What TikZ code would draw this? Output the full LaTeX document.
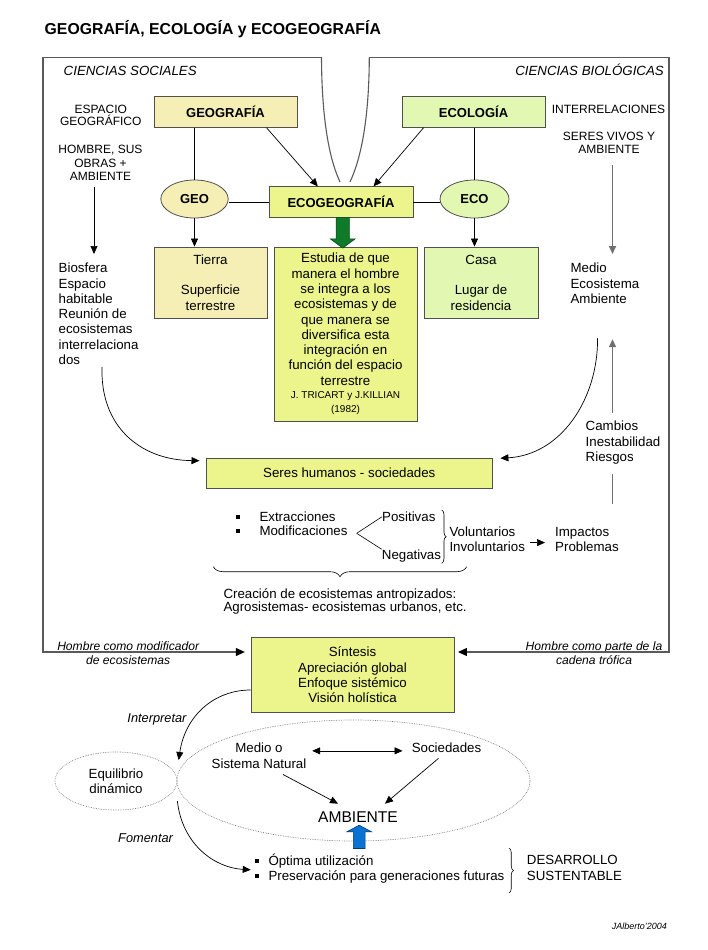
\documentclass[tikz,border=0pt]{standalone}
\usepackage{fontspec}
\setmainfont{Liberation Sans}
\usetikzlibrary{arrows.meta,shapes.geometric,calc,decorations.pathreplacing}
\definecolor{cream}{HTML}{F5EFB6}
\definecolor{lgreen}{HTML}{E2F7B2}
\definecolor{ygreen}{HTML}{ECF58C}
\definecolor{boxline}{HTML}{505050}
\definecolor{framec}{HTML}{5A5A5A}
\definecolor{grayln}{HTML}{707070}
\definecolor{darrow}{HTML}{0E7A2A}
\definecolor{barrow}{HTML}{0A72D2}
\newcommand\fsz[2]{\fontsize{#1}{#2}\selectfont}
\begin{document}
\begin{tikzpicture}[x=1pt,y=-1pt,
  box/.style={draw=boxline,line width=0.9pt,align=center,inner sep=0pt,font=\fsz{13.3}{15.3}},
  bbox/.style={box,font=\bfseries\fsz{13}{15}},
  ell/.style={ellipse,draw=boxline,line width=0.8pt,inner sep=0pt,font=\bfseries\fsz{13}{15}},
  dotell/.style={ellipse,draw=gray,line width=0.7pt,densely dotted,inner sep=0pt,align=center,font=\fsz{13.3}{15}},
  txt/.style={inner sep=0pt,font=\fsz{13.3}{15.3}},
  caps/.style={inner sep=0pt,align=center,font=\fsz{12}{12.7}},
  ital/.style={inner sep=0pt,align=center,font=\itshape\fsz{12.1}{14}},
  bul/.style={rectangle,fill=black,minimum size=4.3pt,inner sep=0pt},
  ln/.style={draw=black,line width=0.7pt},
  arr/.style={draw=black,line width=0.7pt,-{Triangle[length=8pt,width=7pt]}},
  arrtwo/.style={draw=black,line width=0.7pt,{Triangle[length=8pt,width=7pt]}-{Triangle[length=8pt,width=7pt]}},
  grayarr/.style={draw=grayln,line width=1.6pt,-{Triangle[length=8pt,width=7pt]}},
  grayline/.style={draw=grayln,line width=1.6pt},
  frame/.style={draw=framec,line width=1.1pt},
  framearr/.style={frame,-{Triangle[length=9pt,width=8pt,color=black]}},
  bracestyle/.style={draw=black,line width=0.6pt,decorate},
]
\useasboundingbox (0,0) rectangle (708,950);

% title and headings
\node[anchor=base west,inner sep=0pt,font=\bfseries\fsz{15.8}{18}] (title) at (44.5,35) {GEOGRAFÍA, ECOLOGÍA y ECOGEOGRAFÍA};
\node[anchor=base west,inner sep=0pt,font=\itshape\fsz{13.3}{15}] (csoc) at (63.5,75.3) {CIENCIAS SOCIALES};
\node[anchor=base east,inner sep=0pt,font=\itshape\fsz{13.3}{15}] (cbio) at (664,75.3) {CIENCIAS BIOLÓGICAS};

% boxes
\node[bbox,fill=cream,minimum width=143pt,minimum height=30.6pt] (geog) at (225.5,112) {GEOGRAFÍA};
\node[bbox,fill=lgreen,minimum width=143pt,minimum height=30.6pt] (ecol) at (473.5,112) {ECOLOGÍA};
\node[bbox,fill=ygreen,minimum width=144pt,minimum height=30.3pt] (ecogeo) at (341,202) {ECOGEOGRAFÍA};
\node[ell,fill=cream,minimum width=67.4pt,minimum height=38pt] (geo) at (194.5,199) {GEO};
\node[ell,fill=lgreen,minimum width=69pt,minimum height=38pt] (eco) at (474.5,199) {ECO};
\node[box,fill=cream,minimum width=113pt,minimum height=71pt] (tierra) at (210.5,282.5) {Tierra\\[15.3pt]Superficie\\terrestre};
\node[box,fill=ygreen,minimum width=143pt,minimum height=174pt] (estudia) at (345.5,334) {Estudia de que\\manera el hombre\\se integra a los\\ecosistemas y de\\que manera se\\diversifica esta\\integración en\\función del espacio\\terrestre\\[-1.8pt]{\fsz{10}{13}J. TRICART y J.KILLIAN}\\[-1.4pt]{\fsz{10}{13}(1982)}};
\node[box,fill=lgreen,minimum width=114pt,minimum height=71pt] (casa) at (481,282.5) {Casa\\[15.3pt]Lugar de\\residencia};
\node[box,fill=ygreen,minimum width=286.7pt,minimum height=30.3pt] (seres) at (349.3,473.2) {Seres humanos - sociedades};
\node[box,fill=ygreen,minimum width=203pt,minimum height=75.4pt] (sin) at (352.5,675) {Síntesis\\Apreciación global\\Enfoque sistémico\\Visión holística};

% side texts
\node[caps,anchor=north] (espacio) at (100.8,104.7) {ESPACIO\\GEOGRÁFICO};
\node[caps,anchor=north,font=\fsz{12}{13.8}] (hombre) at (100.5,144.7) {HOMBRE, SUS\\OBRAS +\\AMBIENTE};
\node[caps,anchor=base] (interrel) at (608.5,113.3) {INTERRELACIONES};
\node[caps,anchor=north,font=\fsz{12}{13}] (seresv) at (609,131.7) {SERES VIVOS Y\\AMBIENTE};
\node[txt,anchor=north west,align=left] (bios) at (58.5,262.9) {Biosfera\\Espacio\\habitable\\Reunión de\\ecosistemas\\interrelaciona\\dos};
\node[txt,anchor=north west,align=left] (medio) at (570.4,262.9) {Medio\\Ecosistema\\Ambiente};
\node[txt,anchor=north west,align=left] (cambios) at (585.5,420.9) {Cambios\\Inestabilidad\\Riesgos};

% middle list
\node[bul] (b1) at (238.3,516.7) {};
\node[bul] (b2) at (238.3,530.7) {};
\node[txt,anchor=north west,align=left,font=\fsz{13.3}{14}] (extr) at (259.3,511.9) {Extracciones\\Modificaciones};
\node[txt,anchor=base west] (pos) at (382,521.5) {Positivas};
\node[txt,anchor=base west] (neg) at (381.7,559.1) {Negativas};
\node[txt,anchor=north west,align=left,font=\fsz{13.3}{15}] (vol) at (449.3,526.9) {Voluntarios\\Involuntarios};
\node[txt,anchor=north west,align=left,font=\fsz{13.3}{15}] (imp) at (555,526.9) {Impactos\\Problemas};
\node[txt,anchor=north west,align=left,font=\fsz{13.3}{13.4}] (crea) at (223.3,588.5) {Creación de ecosistemas antropizados:\\Agrosistemas- ecosistemas urbanos, etc.};

% lower part
\node[ital,anchor=north] (hmod) at (128.2,641.7) {Hombre como modificador\\de ecosistemas};
\node[ital,anchor=north] (hpart) at (594,641.7) {Hombre como parte de la\\cadena trófica};
\node[anchor=base east,inner sep=0pt,font=\itshape\fsz{12.8}{15}] (interp) at (186.7,722.9) {Interpretar};
\node[anchor=base west,inner sep=0pt,font=\itshape\fsz{12.8}{15}] (foment) at (118,842.6) {Fomentar};
\node[dotell,minimum width=353pt,minimum height=121pt] (ambell) at (353.5,780.5) {};
\node[dotell,minimum width=122pt,minimum height=58pt] (equil) at (116,781) {Equilibrio\\dinámico};
\node[txt,anchor=north,align=center,font=\fsz{13.3}{16}] (medio2) at (259,742.8) {Medio o\\Sistema Natural};
\node[txt,anchor=base] (soc) at (446.5,752.5) {Sociedades};
\node[anchor=base,inner sep=0pt,font=\fsz{15.6}{18}] (amb) at (358,822.6) {AMBIENTE};
\node[bul] (b3) at (257.3,860.7) {};
\node[bul] (b4) at (257.3,876) {};
\node[txt,anchor=north west,align=left] (optima) at (268.3,853.3) {Óptima utilización\\Preservación para generaciones futuras};
\node[txt,anchor=north west,align=left,font=\fsz{13.3}{16}] (desa) at (526.7,855.2) {DESARROLLO\\SUSTENTABLE};
\node[anchor=base east,inner sep=0pt,font=\itshape\fsz{9}{11}] (jal) at (667,929.9) {JAlberto'2004};

% coordinates
\coordinate (ftl1) at (321.5,57.5);
\coordinate (ftl) at (43,57.5);
\coordinate (fbl) at (43,652);
\coordinate (ftr1) at (369.3,57.5);
\coordinate (ftr) at (669,57.5);
\coordinate (fbr) at (669,652);
\coordinate (xl) at (94,0);
\coordinate (xr) at (612.5,0);
\coordinate (rcs) at (597.6,338);
\coordinate (fork) at (356.7,533.3);

% frame
\draw[framearr,shorten >=5.7pt] (ftl1) -- (ftl) -- (fbl) -- (sin.west |- fbl);
\draw[framearr,shorten >=3.5pt] (ftr1) -- (ftr) -- (fbr) -- (sin.east |- fbr);
\draw[frame] (ftl1) .. controls (321.8,130) and (332,165) .. ([xshift=-1pt,yshift=4.5pt]ecogeo.north);
\draw[frame] (ftr1) .. controls (369,130) and (358,165) .. ([xshift=9pt,yshift=4.5pt]ecogeo.north);

% top connectors
\draw[ln] (geo.north) -- (geo.north |- geog.south);
\draw[ln] (eco.north) -- (eco.north |- ecol.south);
\draw[ln] (ecogeo.west) -- (ecogeo.west -| geo.east);
\draw[ln] (ecogeo.east) -- (ecogeo.east -| eco.west);
\draw[arr] ($(geog.south west)+(113,0)$) -- ($(ecogeo.north west)+(49.3,0)$);
\draw[arr] ($(ecol.south west)+(22,0)$) -- ($(ecogeo.north west)+(105,0)$);
\draw[arr] (geo.south) -- (geo.south |- tierra.north);
\draw[arr] (eco.south) -- (eco.south |- casa.north);

% green arrow
\coordinate (ga) at ([xshift=1.7pt]ecogeo.south);
\filldraw[fill=darrow,draw=darrow!60!black,line width=0.6pt]
  ($(ga)+(-6.6,0)$) -- ($(ga)+(6.6,0)$) -- ($(ga)+(6.6,21.2)$) -- ($(ga)+(12.5,21.2)$)
  -- ($(ga)+(0,30.5)$) -- ($(ga)+(-12.5,21.2)$) -- ($(ga)+(-6.6,21.2)$) -- cycle;

% side arrows
\draw[arr,shorten <=6pt,shorten >=8.9pt] (hombre.south -| xl) -- (bios.north -| xl);
\draw[grayarr,shorten <=11.7pt,shorten >=8.9pt] (seresv.south -| xr) -- (medio.north -| xr);
\draw[grayarr,shorten <=8.2pt,shorten >=35.5pt] (cambios.north -| xr) -- (medio.south -| xr);
\draw[grayline,shorten <=9.7pt] (cambios.south -| xr) -- ++(0,39.4);

% curves into seres
\draw[arr] ([xshift=3.4pt,yshift=-2pt]bios.south) .. controls +(-2,59) and +(-60,-0.7) .. ([xshift=-6pt,yshift=12.5pt]seres.west);
\draw[arr] (rcs) .. controls +(0.4,62) and +(60,-3.2) .. ([xshift=7.3pt,yshift=15pt]seres.east);

% branches and braces
\draw[ln,line width=0.6pt] (fork) -- (pos.west);
\draw[ln,line width=0.6pt] (fork) -- (neg.north west);
\draw[bracestyle,decoration={brace,amplitude=4.5pt}] (441.7,510) -- (441.7,563.3);
\draw[arr,shorten <=5.3pt,shorten >=10pt,transform canvas={yshift=-3.1pt}] (vol.east) -- (vol.east -| imp.west);
\draw[bracestyle,decoration={brace,amplitude=10pt}] (466.7,566.7) -- (213.3,566.7);

% lower connectors
\draw[arr] ([yshift=-15pt]sin.west) .. controls +(-35.7,0) and +(6.7,-45) .. ([xshift=1.3pt,yshift=21pt]equil.east);
\draw[arrtwo,shorten <=5.7pt,shorten >=9pt,transform canvas={yshift=-3.1pt}] (medio2.east |- soc.west) -- (soc.west);
\draw[arr] ([xshift=24pt,yshift=-5.5pt]medio2.south) -- ([xshift=-20pt,yshift=8pt]amb.north);
\draw[arr] ([xshift=-8pt,yshift=-5.5pt]soc.south) -- ([xshift=27pt,yshift=8pt]amb.north);
\draw[arr] ([yshift=-20pt]equil.east) .. controls +(5,44) and +(-35.7,-2) .. ([xshift=-17.6pt,yshift=-1.5pt]optima.west);

% blue arrow
\coordinate (ba) at ([xshift=1.2pt]amb.south);
\filldraw[fill=barrow,draw=barrow!50!black,line width=0.6pt]
  ($(ba)+(0,2.4)$) -- ($(ba)+(12.5,9.1)$) -- ($(ba)+(5.85,9.1)$) -- ($(ba)+(5.85,25.7)$)
  -- ($(ba)+(-5.85,25.7)$) -- ($(ba)+(-5.85,9.1)$) -- ($(ba)+(-12.5,9.1)$) -- cycle;

\draw[bracestyle,decoration={brace,amplitude=4.5pt}] (509,848) -- (509,893);
\end{tikzpicture}
\end{document}
